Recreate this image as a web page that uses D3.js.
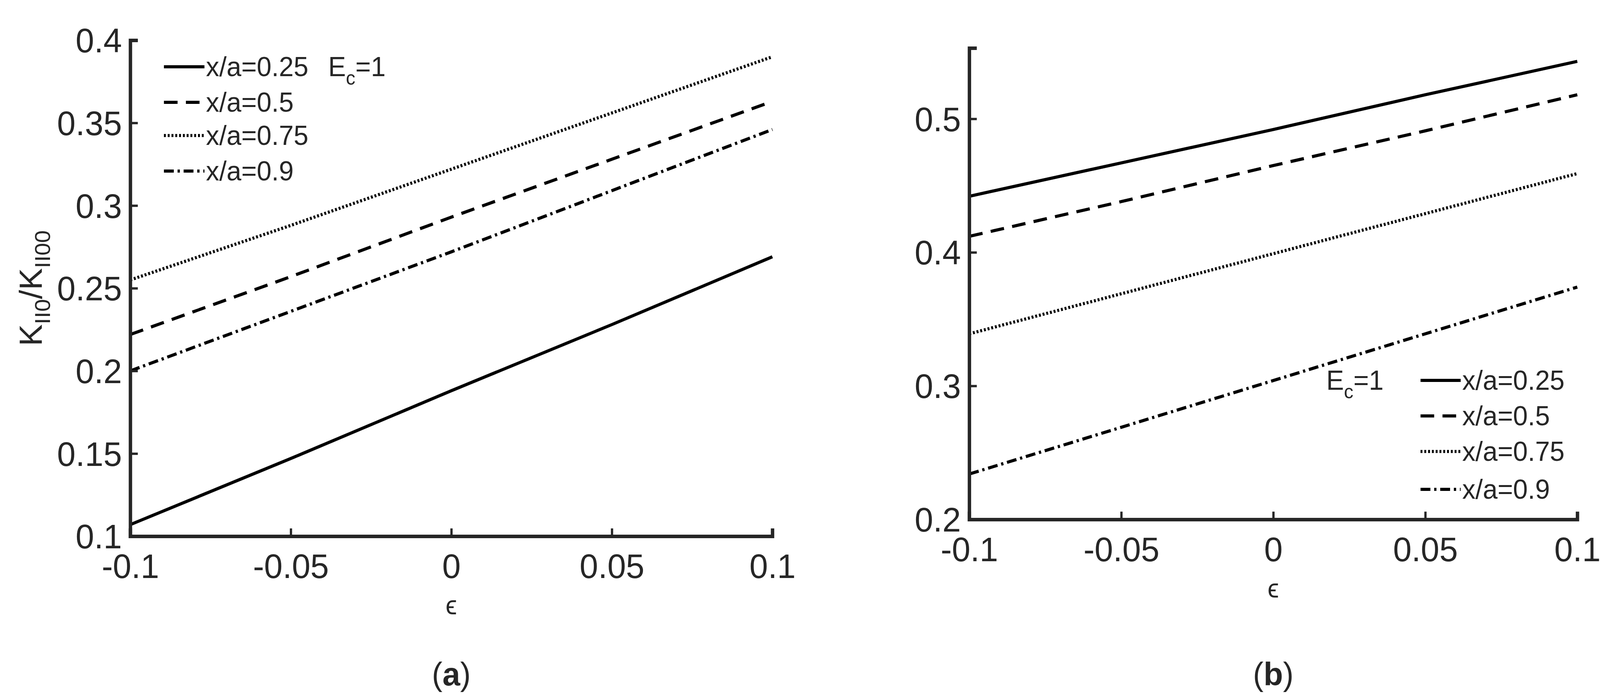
<!DOCTYPE html>
<html><head><meta charset="utf-8">
<script src="https://cdn.jsdelivr.net/npm/d3@7"></script>
<style>html,body{margin:0;background:#fff;overflow:hidden;width:100%;height:100%}svg{display:block;width:100vw;height:100vh}text{font-family:"Liberation Sans",Arial,sans-serif;fill:#262626}</style>
</head><body><svg id="c" viewBox="0 0 4226 1777" preserveAspectRatio="none"></svg>
<script>
const eps = [-0.1, -0.05, 0, 0.05, 0.1];
const labels = ["x/a=0.25", "x/a=0.5", "x/a=0.75", "x/a=0.9"];
const dashes = [null, "36,22", "5,5", "26,10,6,10"];
const seriesA = [
  [0.107, 0.147, 0.188, 0.228, 0.269],
  [0.222, 0.257, 0.293, 0.328, 0.363],
  [0.255, 0.288, 0.322, 0.356, 0.390],
  [0.200, 0.236, 0.272, 0.309, 0.346]
];
const seriesB = [
  [0.442, 0.467, 0.492, 0.518, 0.543],
  [0.412, 0.438, 0.465, 0.491, 0.518],
  [0.339, 0.369, 0.399, 0.429, 0.459],
  [0.234, 0.269, 0.304, 0.339, 0.374]
];
const ticksA = [0.1, 0.15, 0.2, 0.25, 0.3, 0.35, 0.4];
const ticksB = [0.2, 0.3, 0.4, 0.5];
const ticksX = [-0.1, -0.05, 0, 0.05, 0.1];

const svg = d3.select("#c");
const fmt = d => String(d);

function panel(o) {
  const x = d3.scaleLinear().domain([-0.1, 0.1]).range([o.l, o.r]);
  const y = d3.scaleLinear().domain(o.yd).range([o.b, o.t]);
  const g = svg.append("g");
  const line = d3.line().x((d, i) => x(eps[i])).y(d => y(d));
  o.data.forEach((s, i) => {
    g.append("path").attr("d", line(s)).attr("fill", "none").attr("stroke", "#000")
      .attr("stroke-width", 8).attr("stroke-dasharray", dashes[i]);
  });
  const ax = g.append("g").attr("transform", `translate(0,${o.b})`)
    .call(d3.axisBottom(x).tickValues(ticksX).tickSize(-20).tickPadding(45).tickFormat(fmt));
  const ay = g.append("g").attr("transform", `translate(${o.l},0)`)
    .call(d3.axisLeft(y).tickValues(o.ticks).tickSize(-20).tickPadding(22).tickFormat(fmt));
  [ax, ay].forEach(a => {
    a.select(".domain").attr("stroke", "#262626").attr("stroke-width", 9);
    a.selectAll(".tick line").attr("stroke", "#262626").attr("stroke-width", 6);
    a.selectAll("text").attr("font-size", 88).attr("fill", "#262626");
  });
  ay.selectAll("text").attr("dy", "0.35em");
  g.append("text").attr("x", (o.l + o.r) / 2).attr("y", o.b + 200).attr("text-anchor", "middle")
    .attr("font-size", 68).attr("font-family", "DejaVu Serif").text("ϵ");
  g.append("text").attr("x", (o.l + o.r) / 2).attr("y", 1755).attr("text-anchor", "middle")
    .attr("font-size", 84).attr("font-family", "Liberation Serif").attr("fill", "#000")
    .html(`(<tspan font-weight="bold">${o.tag}</tspan>)`);
  // legend
  labels.forEach((lab, i) => {
    const ly = o.leg.y[i];
    g.append("line").attr("x1", o.leg.x0).attr("x2", o.leg.x1).attr("y1", ly).attr("y2", ly)
      .attr("stroke", "#000").attr("stroke-width", 8).attr("stroke-dasharray", dashes[i]);
    g.append("text").attr("x", o.leg.x1 + 4).attr("y", ly).attr("dy", "0.35em")
      .attr("font-size", 70).text(lab);
  });
  g.append("text").attr("x", o.ec.x).attr("y", o.ec.y).attr("dy", "0.35em").attr("font-size", 70)
    .html('E<tspan font-size="50" dy="22">c</tspan><tspan dy="-22">=1</tspan>');
  return g;
}

panel({l: 344, r: 2040, t: 103, b: 1373, yd: [0.1, 0.4], ticks: ticksA, data: seriesA, tag: "a",
  leg: {x0: 433, x1: 540, y: [171, 262, 347, 438]}, ec: {x: 867, y: 171}});
panel({l: 2560, r: 4166, t: 123, b: 1330, yd: [0.2, 0.553], ticks: ticksB, data: seriesB, tag: "b",
  leg: {x0: 3752, x1: 3858, y: [974, 1065, 1156, 1253]}, ec: {x: 3503, y: 974}});

svg.append("text").attr("transform", "translate(110,738) rotate(-90)").attr("text-anchor", "middle")
  .attr("font-size", 84)
  .html('K<tspan font-size="58" dy="22">II0</tspan><tspan dy="-22">/K</tspan><tspan font-size="58" dy="22">II00</tspan>');
</script></body></html>
